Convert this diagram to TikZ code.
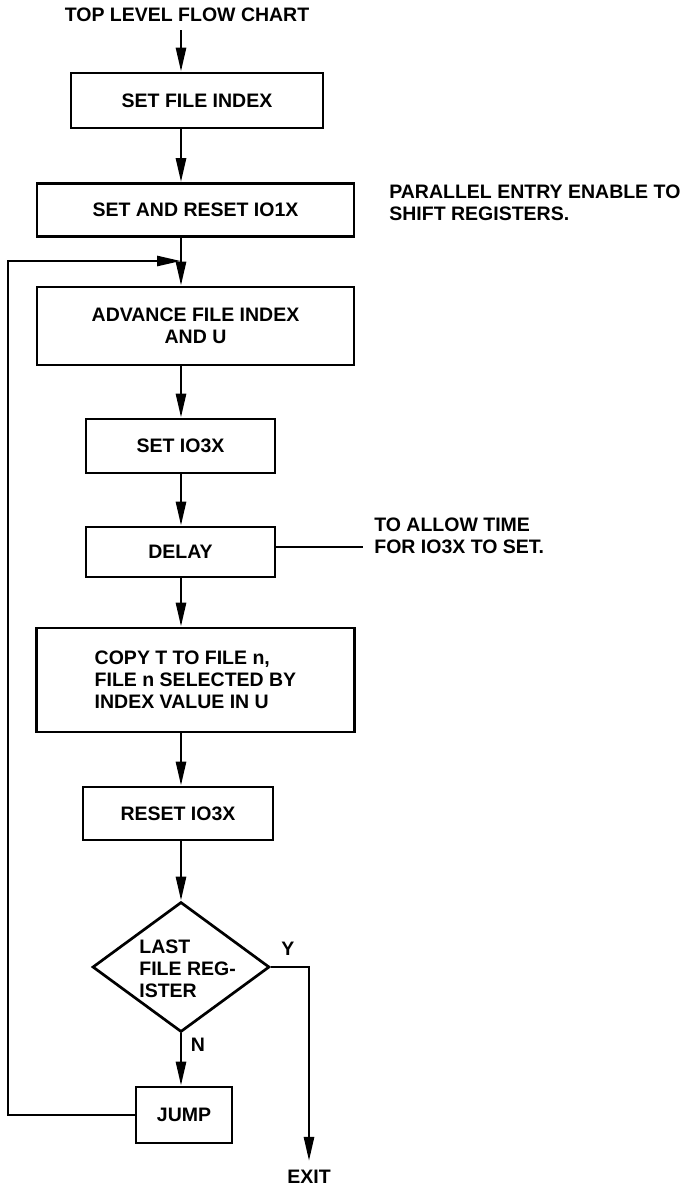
\documentclass[tikz,border=0pt]{standalone}
\usepackage{fontspec}
\setmainfont{Liberation Sans}
\usetikzlibrary{arrows.meta,shapes.geometric,calc}
\begin{document}
\begin{tikzpicture}[x=1pt,y=-1pt,
  line width=2.7pt,
  font=\fontsize{19.5}{22}\selectfont\bfseries,
  box/.style={draw, rectangle, inner sep=0pt, align=center, line join=miter},
  arr/.style={-{Triangle[length=24pt,width=10pt]}},
  lbl/.style={inner sep=0pt, align=left},
]
\useasboundingbox (0,0) rectangle (697,1187);
\coordinate (spine) at (181,0);

\node[lbl] (title) at (187,15) {TOP LEVEL FLOW CHART};
\node[box, minimum width=252pt, minimum height=55pt] (sfi) at (197,100.5) {SET FILE INDEX};
\node[box, minimum width=317pt, minimum height=53pt] (sar) at (195.5,210) {SET AND RESET IO1X};
\node[lbl, anchor=west] (note1) at (388,203) {PARALLEL ENTRY ENABLE TO\\SHIFT REGISTERS.};
\node[box, minimum width=317pt, minimum height=78pt] (adv) at (195.5,326) {ADVANCE FILE INDEX\\AND U};
\node[box, minimum width=189pt, minimum height=54pt] (set3) at (180.5,446) {SET IO3X};
\node[box, minimum width=189pt, minimum height=50pt] (delay) at (180.5,552) {DELAY};
\node[lbl, anchor=west] (note2) at (373,536) {TO ALLOW TIME\\FOR IO3X TO SET.};
\node[box, minimum width=318pt, minimum height=104pt, align=left] (copy) at (195.5,680) {COPY T TO FILE n,\\FILE n SELECTED BY\\INDEX VALUE IN U};
\node[box, minimum width=190pt, minimum height=53pt] (reset) at (178,813.5) {RESET IO3X};
\node[draw, diamond, minimum width=177pt, minimum height=130pt, inner sep=0pt] (dia) at (181,967) {};
\node[lbl, anchor=west] (diatext) at (138,969) {LAST\\FILE REG-\\ISTER};
\node[lbl] (ylab) at (288,949) {Y};
\node[lbl] (nlab) at (198,1045) {N};
\node[box, minimum width=96pt, minimum height=56pt] (jump) at (184,1115) {JUMP};
\node[lbl] (exit) at (309,1177) {EXIT};
\coordinate (junc) at (181,261);
\coordinate (lp) at (8,261);

\draw[arr, shorten <=7pt] (title.south -| spine) -- (sfi.north -| spine);
\draw[arr] (sfi.south -| spine) -- (sar.north -| spine);
\draw[arr] (sar.south -| spine) -- (adv.north -| spine);
\draw[arr] (jump.west) -| (lp) -- (junc);
\draw[arr] (adv.south -| spine) -- (set3.north -| spine);
\draw[arr] (set3.south -| spine) -- (delay.north -| spine);
\draw ([yshift=5pt]delay.east) -- ([yshift=5pt]delay.east -| note2.west) [shorten >=10pt];
\draw[arr] (delay.south -| spine) -- (copy.north -| spine);
\draw[arr] (copy.south -| spine) -- (reset.north -| spine);
\draw[arr] (reset.south -| spine) -- (dia.north);
\draw[arr] (dia.south) -- (jump.north -| dia.south);
\draw[arr, shorten >=8pt] (dia.east) -| (exit.north);
\end{tikzpicture}
\end{document}
